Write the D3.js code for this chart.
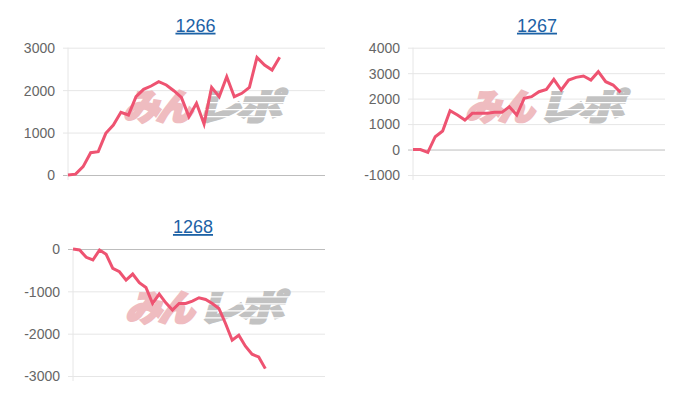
<!DOCTYPE html>
<html>
<head>
<meta charset="utf-8">
<script src="https://cdn.jsdelivr.net/npm/d3@7"></script>
<style>
  body { margin: 0; background: #fff; }
  svg { display: block; font-family: "Liberation Sans", Arial, sans-serif; }
  .axis text { fill: #666; font-size: 14px; }
  .axis .domain { display: none; }
  .title { fill: #1c62a6; font-size: 18px; text-decoration: underline; }
</style>
</head>
<body>
<svg width="700" height="400"></svg>
<script>
// machine numbers
const titles = ["1266", "1267", "1268"]

// number of x slots on each chart (labels are hidden)
const slots = [35, 35, 39]

const yDomains = [[0, 3000], [-1000, 4000], [-3000, 0]]
const yTicks = [[0, 1000, 2000, 3000], [-1000, 0, 1000, 2000, 3000, 4000], [-3000, -2000, -1000, 0]]

const series1266 = [0, 20, 196, 526, 550, 982, 1178, 1477, 1414, 1846, 2019, 2097, 2200, 2121,
  1987, 1830, 1375, 1689, 1202, 2066, 1846, 2317, 1846, 1925, 2066, 2773, 2592, 2474, 2773]

const series1267 = [0, 0, -110, 505, 727, 1526, 1356, 1160, 1422, 1422, 1422, 1461, 1461, 1683,
  1356, 2011, 2076, 2272, 2364, 2757, 2338, 2730, 2835, 2888, 2730, 3057, 2665, 2534, 2246]

const series1268 = [0, -24, -197, -260, -24, -126, -458, -537, -734, -592, -797, -908, -1287, -1066,
  -1271, -1444, -1287, -1287, -1231, -1152, -1192, -1287, -1405, -1760, -2155, -2037, -2297,
  -2486, -2549, -2826]

const allSeries = [series1266, series1267, series1268]

const svg = d3.select("svg")

// plot boxes for the three small charts
const boxes = [
  {left: 68, top: 47.7, width: 257, height: 127.3},
  {left: 413, top: 47.7, width: 252, height: 127.3},
  {left: 73, top: 249, width: 252, height: 127}
]

boxes.forEach(function (b, i) {
  const g = svg.append("g").attr("transform", "translate(" + b.left + "," + b.top + ")")

  const x = d3.scaleLinear().domain([0, slots[i] - 1]).range([0, b.width])
  const y = d3.scaleLinear().domain(yDomains[i]).range([b.height, 0])

  // title
  g.append("text")
    .attr("class", "title")
    .attr("x", b.width / 2 + (i === 0 ? -1 : i === 2 ? -6 : -2))
    .attr("y", -16)
    .attr("text-anchor", "middle")
    .text(titles[i])

  // grid + y labels (plain hyphen for negatives)
  const axis = g.append("g")
    .attr("class", "axis")
    .call(d3.axisLeft(y).tickValues(yTicks[i]).tickSize(-b.width).tickPadding(13).tickFormat(d => String(d)))

  axis.selectAll(".tick line")
    .attr("x1", -5)
    .attr("stroke", d => d === 0 ? "#bdbdbd" : "#e6e6e6")

  axis.selectAll(".tick text").attr("dy", "0.35em")

  // left axis line
  g.append("line")
    .attr("x1", 0).attr("x2", 0)
    .attr("y1", 0).attr("y2", b.height + 5)
    .attr("stroke", "#e6e6e6")

  // watermark
  const wm = g.append("g")
    .attr("transform", "translate(" + (b.width * 0.54 - 84) + "," + (b.height * 0.45 + 15) + ") skewX(-16)")
  wm.append("text")
    .attr("x", 0).attr("y", 0)
    .attr("font-size", 36).attr("font-weight", 900)
    .attr("font-family", "'Noto Sans CJK JP', sans-serif")
    .attr("fill", "#efbcc0").attr("stroke", "#efbcc0").attr("stroke-width", 2.5)
    .attr("letter-spacing", -3)
    .text("みん")
  wm.append("text")
    .attr("transform", "translate(72,0) scale(1.25,1)")
    .attr("font-size", 36).attr("font-weight", 900)
    .attr("font-family", "'Noto Sans CJK JP', sans-serif")
    .attr("fill", "#c2c2c2").attr("stroke", "#c2c2c2").attr("stroke-width", 2.5)
    .attr("letter-spacing", -3)
    .text("レポ")
  // speed stripes through the grey part
  d3.range(4).forEach(function (k) {
    wm.append("rect")
      .attr("x", 72).attr("y", -25 + k * 7)
      .attr("width", 100).attr("height", 1.3)
      .attr("fill", "#fff")
  })

  // line
  const line = d3.line()
    .x((d, j) => x(j))
    .y(d => y(d))

  g.append("path")
    .datum(allSeries[i])
    .attr("d", line)
    .attr("fill", "none")
    .attr("stroke", "#ee5371")
    .attr("stroke-width", 3)
    .attr("stroke-linejoin", "miter")
})
</script>
</body>
</html>
